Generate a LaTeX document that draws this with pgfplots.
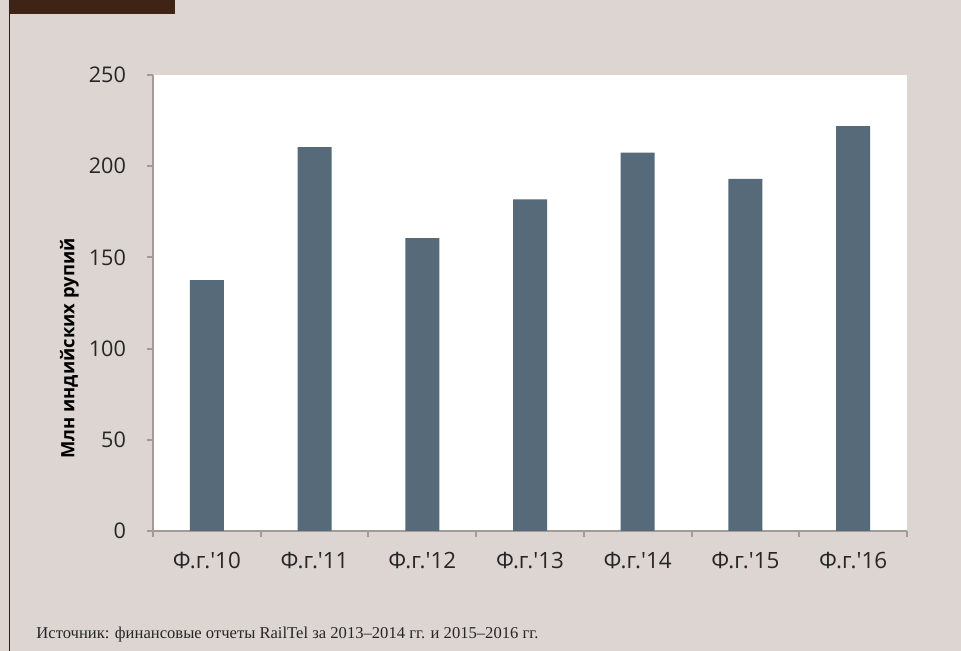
\documentclass[border=0pt]{standalone}
\usepackage{fontspec}
\setmainfont{Open Sans}
\newfontfamily\tf{Open Sans}
\newfontfamily\srcfont{Liberation Serif}
\usepackage{pgfplots}
\pgfplotsset{compat=1.18}
\definecolor{bgc}{HTML}{DDD5D2}
\definecolor{barc}{HTML}{566A7A}
\definecolor{axc}{HTML}{A39B97}
\definecolor{brownc}{HTML}{3F2416}
\definecolor{txt}{HTML}{262626}
\begin{document}
\begin{tikzpicture}
\fill[bgc] (0pt,0pt) rectangle (480.5pt,325.5pt);
\useasboundingbox (0pt,0pt) rectangle (480.5pt,325.5pt);
\fill[brownc] (4.5pt,318.5pt) rectangle (87.5pt,325.5pt);
\draw[brownc!80!black, line width=0.8pt] (4.75pt,0pt) -- (4.75pt,325.5pt);
\begin{axis}[
  at={(76.5pt,60pt)}, anchor=south west,
  scale only axis, width=377pt, height=228pt,
  xmin=-0.5, xmax=6.5, ymin=0, ymax=250,
  axis x line*=bottom, axis y line*=left,
  axis line style={axc, line width=1pt},
  axis background/.style={fill=white},
  ytick={0,50,...,250},
  xtick={0,...,6},
  xticklabels={Ф.г.'10,Ф.г.'11,Ф.г.'12,Ф.г.'13,Ф.г.'14,Ф.г.'15,Ф.г.'16},
  major x tick style={draw=none},
  minor xtick={-0.5,0.5,...,6.5},
  tick align=outside,
  tick style={axc, line width=1pt},
  major tick length=3pt, minor tick length=3pt,
  yticklabel style={font=\tf\fontsize{10.8}{12}\selectfont, text=txt, xshift=-7pt},
  xticklabel style={font=\tf\fontsize{11.2}{12}\selectfont, text=txt, yshift=-4pt},
  /pgf/number format/assume math mode=true,
  ylabel={Млн индийских рупий},
  ylabel style={font=\fontsize{9.2}{11}\selectfont\bfseries, text=black, at={(axis description cs:-0.111,0.4)}, anchor=center},
]
\addplot[ybar, bar width=17pt, fill=barc, draw=none] coordinates {
(0,137.6) (1,210.5) (2,160.6) (3,181.8) (4,207.4) (5,193) (6,222)
};
\end{axis}
\node[anchor=base west, inner sep=0pt, font=\srcfont\fontsize{8.3}{10}\selectfont, text=txt] at (18pt,6pt) {Источник: финансовые отчеты RailTel за 2013–2014 гг. и 2015–2016 гг.};
\end{tikzpicture}
\end{document}
